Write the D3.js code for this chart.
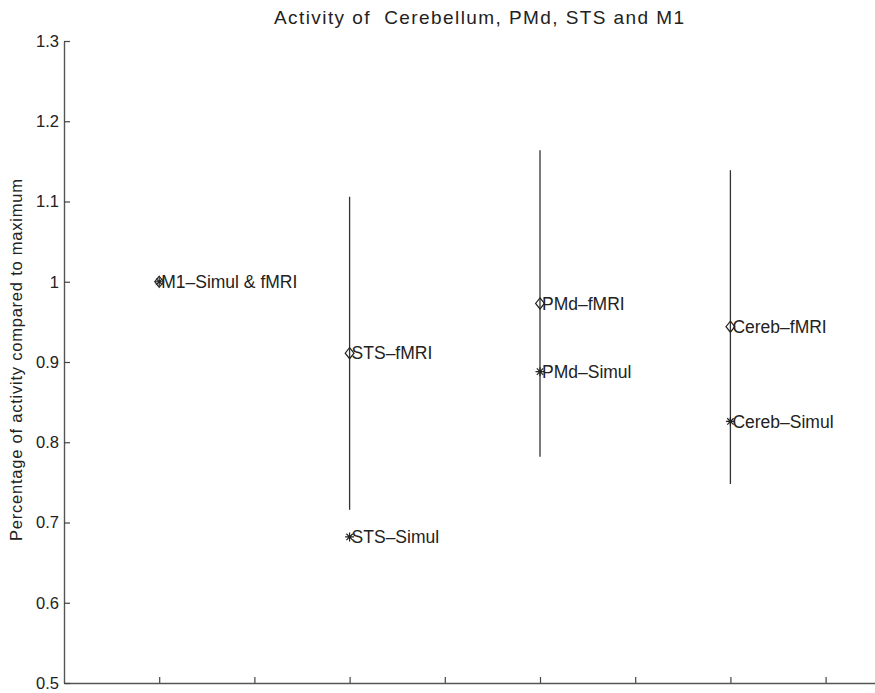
<!DOCTYPE html>
<html>
<head>
<meta charset="utf-8">
<script src="https://cdn.jsdelivr.net/npm/d3@7"></script>
<style>
  body { margin: 0; background: #fff; }
  text { font-family: "Liberation Sans", Arial, Helvetica, sans-serif; fill: #222; }
</style>
</head>
<body>
<div id="chart-area"></div>
<script>

// SVG size
var width = 875,
	height = 693;

// Data
var regions = ["M1", "STS", "PMd", "Cereb"];
var xPos = [1, 3, 5, 7];
var fmriVals = [1.0, 0.911, 0.973, 0.944];
var simulVals = [1.0, 0.682, 0.888, 0.826];
var errLow = [null, 0.716, 0.782, 0.748];
var errHigh = [null, 1.106, 1.164, 1.139];
var fmriLabels = ["M1\u2013Simul & fMRI", "STS\u2013fMRI", "PMd\u2013fMRI", "Cereb\u2013fMRI"];
var simulLabels = [null, "STS\u2013Simul", "PMd\u2013Simul", "Cereb\u2013Simul"];
var yTicks = [0.5, 0.6, 0.7, 0.8, 0.9, 1.0, 1.1, 1.2, 1.3];
var xTicks = [1, 2, 3, 4, 5, 6, 7, 8];

var svg = d3.select("#chart-area")
	.append("svg")
	.attr("width", width)
	.attr("height", height);

// plot area, right side runs past the picture edge
var x = d3.scaleLinear()
	.domain([0, 9])
	.range([64, 64 + 9 * 95.2]);

var y = d3.scaleLinear()
	.domain([0.5, 1.3])
	.range([683, 41]);

// axes, ticks pointing inwards like matlab
var xAxis = d3.axisBottom(x)
	.tickValues(xTicks)
	.tickSizeInner(-6)
	.tickSizeOuter(0)
	.tickFormat("");

var yAxis = d3.axisLeft(y)
	.tickValues(yTicks)
	.tickSizeInner(-6)
	.tickSizeOuter(0)
	.tickPadding(5)
	.tickFormat(function (d) { return String(+d.toFixed(1)); });

var gx = svg.append("g")
	.attr("transform", "translate(0," + y(0.5) + ")")
	.call(xAxis);

var gy = svg.append("g")
	.attr("transform", "translate(" + x(0) + ",0)")
	.call(yAxis);

[gx, gy].forEach(function (g) {
	g.select(".domain").attr("stroke", "#555").attr("stroke-width", 1.4);
	g.selectAll(".tick line").attr("stroke", "#444").attr("stroke-width", 1.2);
});
gy.selectAll(".tick text")
	.style("font-size", "16.5px")
	.style("font-family", "Liberation Sans, Arial, sans-serif")
	.attr("fill", "#333");

// title and axis label
svg.append("text")
	.attr("x", 479)
	.attr("y", 24)
	.attr("text-anchor", "middle")
	.attr("xml:space", "preserve")
	.style("white-space", "pre")
	.style("font-size", "19px")
	.attr("textLength", 410)
	.attr("lengthAdjust", "spacing")
	.text("Activity of  Cerebellum, PMd, STS and M1");

svg.append("text")
	.attr("transform", "translate(22,360) rotate(-90)")
	.attr("text-anchor", "middle")
	.style("font-size", "16.5px")
	.attr("textLength", 362)
	.attr("lengthAdjust", "spacing")
	.text("Percentage of activity compared to maximum");

// matlab style markers
var diamondType = {
	draw: function (ctx, size) {
		var r = Math.sqrt(size) / 2;
		ctx.moveTo(0, -r);
		ctx.lineTo(r * 0.8, 0);
		ctx.lineTo(0, r);
		ctx.lineTo(-r * 0.8, 0);
		ctx.closePath();
	}
};
var starType = {
	draw: function (ctx, size) {
		var r = Math.sqrt(size) / 2;
		var c = r * Math.SQRT1_2;
		ctx.moveTo(-r, 0); ctx.lineTo(r, 0);
		ctx.moveTo(0, -r); ctx.lineTo(0, r);
		ctx.moveTo(-c, -c); ctx.lineTo(c, c);
		ctx.moveTo(-c, c); ctx.lineTo(c, -c);
	}
};

var data = regions.map(function (r, i) {
	return {
		region: r, x: xPos[i], fmri: fmriVals[i], simul: simulVals[i],
		lo: errLow[i], hi: errHigh[i],
		fmriLabel: fmriLabels[i], simulLabel: simulLabels[i]
	};
});

// error bars
svg.selectAll(".err")
	.data(data.filter(function (d) { return d.lo !== null; }))
	.enter()
	.append("line")
	.attr("class", "err")
	.attr("x1", function (d) { return x(d.x); })
	.attr("x2", function (d) { return x(d.x); })
	.attr("y1", function (d) { return y(d.hi); })
	.attr("y2", function (d) { return y(d.lo); })
	.attr("stroke", "#333")
	.attr("stroke-width", 1.3);

svg.selectAll(".diamond")
	.data(data).enter()
	.append("path")
	.attr("class", "diamond")
	.attr("transform", function (d) { return "translate(" + x(d.x) + "," + y(d.fmri) + ")"; })
	.attr("d", d3.symbol().type(diamondType).size(121))
	.attr("fill", "none")
	.attr("stroke", "#222")
	.attr("stroke-width", 1.2);

svg.selectAll(".star")
	.data(data).enter()
	.append("path")
	.attr("class", "star")
	.attr("transform", function (d) { return "translate(" + x(d.x) + "," + y(d.simul) + ")"; })
	.attr("d", d3.symbol().type(starType).size(81))
	.attr("fill", "none")
	.attr("stroke", "#222")
	.attr("stroke-width", 1.2);

// labels next to the markers
svg.selectAll(".flabel")
	.data(data).enter()
	.append("text")
	.attr("class", "flabel")
	.attr("x", function (d) { return x(d.x) + 2; })
	.attr("y", function (d) { return y(d.fmri); })
	.attr("dy", "0.35em")
	.style("font-size", "17.5px")
	.text(function (d) { return d.fmriLabel; });

svg.selectAll(".slabel")
	.data(data.filter(function (d) { return d.simulLabel; })).enter()
	.append("text")
	.attr("class", "slabel")
	.attr("x", function (d) { return x(d.x) + 2; })
	.attr("y", function (d) { return y(d.simul); })
	.attr("dy", "0.35em")
	.style("font-size", "17.5px")
	.text(function (d) { return d.simulLabel; });

</script>
</body>
</html>
